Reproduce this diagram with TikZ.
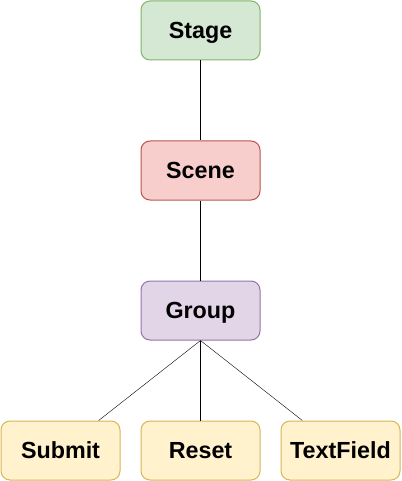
\documentclass[tikz,border=0pt]{standalone}
\usepackage{fontspec}
\setmainfont{Liberation Sans}
\usetikzlibrary{positioning}

\definecolor{stagefill}{HTML}{D5E8D4}
\definecolor{stageline}{HTML}{82B366}
\definecolor{scenefill}{HTML}{F8CECC}
\definecolor{sceneline}{HTML}{B85450}
\definecolor{groupfill}{HTML}{E1D5E7}
\definecolor{groupline}{HTML}{9673A6}
\definecolor{leaffill}{HTML}{FFF2CC}
\definecolor{leafline}{HTML}{D6B656}

\begin{document}
\begin{tikzpicture}
  [x=1pt, y=1pt,
   every node/.style = {rectangle, rounded corners=9pt, line width=1pt,
     minimum width=119pt, minimum height=59pt, inner sep=0pt,
     text height=16.6pt, text depth=0pt,
     font=\fontsize{23.3}{28}\selectfont\bfseries},
   stagebox/.style = {draw=stageline, fill=stagefill},
   scenebox/.style = {draw=sceneline, fill=scenefill},
   groupbox/.style = {draw=groupline, fill=groupfill},
   leafbox/.style = {draw=leafline, fill=leaffill}]
  \useasboundingbox (0, 0) rectangle (401, -481);

  \node [stagebox] (stage) at (200.5, -30.5) {Stage};
  \node [scenebox] (scene) at (200.5, -170.5) {Scene};
  \node [groupbox] (group) at (200.5, -310.5) {Group};

  \node [leafbox] (submit) at (60.5, -450.5) {Submit};
  \node [leafbox] (reset) at (200.5, -450.5) {Reset};
  \node [leafbox] (textfield) at (340.5, -450.5) {TextField};

  \draw (stage) -- (scene);
  \draw (scene) -- (group);
  \draw (group.south) -- (submit);
  \draw (group) -- (reset);
  \draw (group.south) -- (textfield);
\end{tikzpicture}
\end{document}
